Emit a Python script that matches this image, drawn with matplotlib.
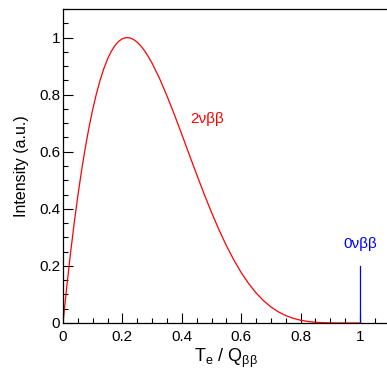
import matplotlib
matplotlib.use("Agg")
import matplotlib.pyplot as plt
from matplotlib.ticker import MultipleLocator, FuncFormatter

plt.rcParams['font.family'] = ['Liberation Sans', 'DejaVu Sans']
plt.rcParams['mathtext.fontset'] = 'custom'
plt.rcParams['mathtext.rm'] = 'Liberation Sans'
plt.rcParams['mathtext.it'] = 'Liberation Sans:italic'

# 2nu-beta-beta summed electron energy spectrum
x_2nu = [0.0, 0.0125, 0.025, 0.0375, 0.05, 0.0625, 0.075, 0.0875, 0.1, 0.1125,
         0.125, 0.1375, 0.15, 0.1625, 0.175, 0.1875, 0.2, 0.2125, 0.225, 0.2375,
         0.25, 0.2625, 0.275, 0.2875, 0.3, 0.325, 0.35, 0.375, 0.4, 0.425, 0.45,
         0.475, 0.5, 0.525, 0.55, 0.575, 0.6, 0.625, 0.65, 0.675, 0.7, 0.725,
         0.75, 0.775, 0.8, 0.825, 0.85, 0.875, 0.9, 0.925, 0.95, 0.975, 1.0]
y_2nu = [0.0, 0.1256, 0.2416, 0.3481, 0.4455, 0.5339, 0.6136, 0.6849, 0.7479,
         0.8031, 0.8508, 0.8912, 0.9246, 0.9515, 0.9721, 0.9867, 0.9959, 0.9998,
         0.9988, 0.9933, 0.9836, 0.9701, 0.9531, 0.9329, 0.9100, 0.8568, 0.7960,
         0.7299, 0.6608, 0.5903, 0.5204, 0.4524, 0.3876, 0.3270, 0.2713, 0.2212,
         0.1767, 0.1382, 0.1055, 0.0783, 0.0564, 0.0391, 0.0260, 0.0164, 0.0097,
         0.0053, 0.0026, 0.0011, 0.0004, 0.0001, 0.0, 0.0, 0.0]

# 0nu-beta-beta peak
x_0nu = [1.0, 1.0]
y_0nu = [0.0, 0.2]

label_2nu = "2νββ"
label_0nu = "0νββ"
xlabel = r"T$_\mathrm{e}$ / Q$_\mathrm{\beta\beta}$"
ylabel = "Intensity (a.u.)"

fig = plt.figure(figsize=(3.87, 3.71), dpi=100)
ax = fig.add_axes([63/387, 48/371, 326.7/387, 314/371])

ax.plot(x_2nu, y_2nu, color='#ff0000', lw=0.9)
ax.plot(x_0nu, y_0nu, color='#0000ff', lw=0.9)

ax.text(0.428, 0.70, label_2nu, color='#ff0000', fontsize=11, va='baseline', ha='left')
ax.text(0.943, 0.263, label_0nu, color='#0000ff', fontsize=11, va='baseline', ha='left')

ax.set_xlim(0, 1.1)
ax.set_ylim(0, 1.1)
ax.xaxis.set_major_locator(MultipleLocator(0.2))
ax.xaxis.set_minor_locator(MultipleLocator(0.05))
ax.yaxis.set_major_locator(MultipleLocator(0.2))
ax.yaxis.set_minor_locator(MultipleLocator(0.05))
fmt = FuncFormatter(lambda v, p: ('%g' % round(v, 3)))
ax.xaxis.set_major_formatter(fmt)
ax.yaxis.set_major_formatter(fmt)

ax.tick_params(which='both', direction='in', width=0.8, top=False, right=False, labelsize=11)
ax.tick_params(which='major', length=7.2)
ax.tick_params(which='minor', length=3.6)
ax.tick_params(axis='x', pad=5)
ax.tick_params(axis='y', pad=2)

for s in ax.spines.values():
    s.set_linewidth(0.9)

ax.set_xlabel(xlabel, fontsize=13, labelpad=2)
ax.set_ylabel(ylabel, fontsize=11.5, labelpad=7.5)

fig.savefig("out.png", dpi=100)
